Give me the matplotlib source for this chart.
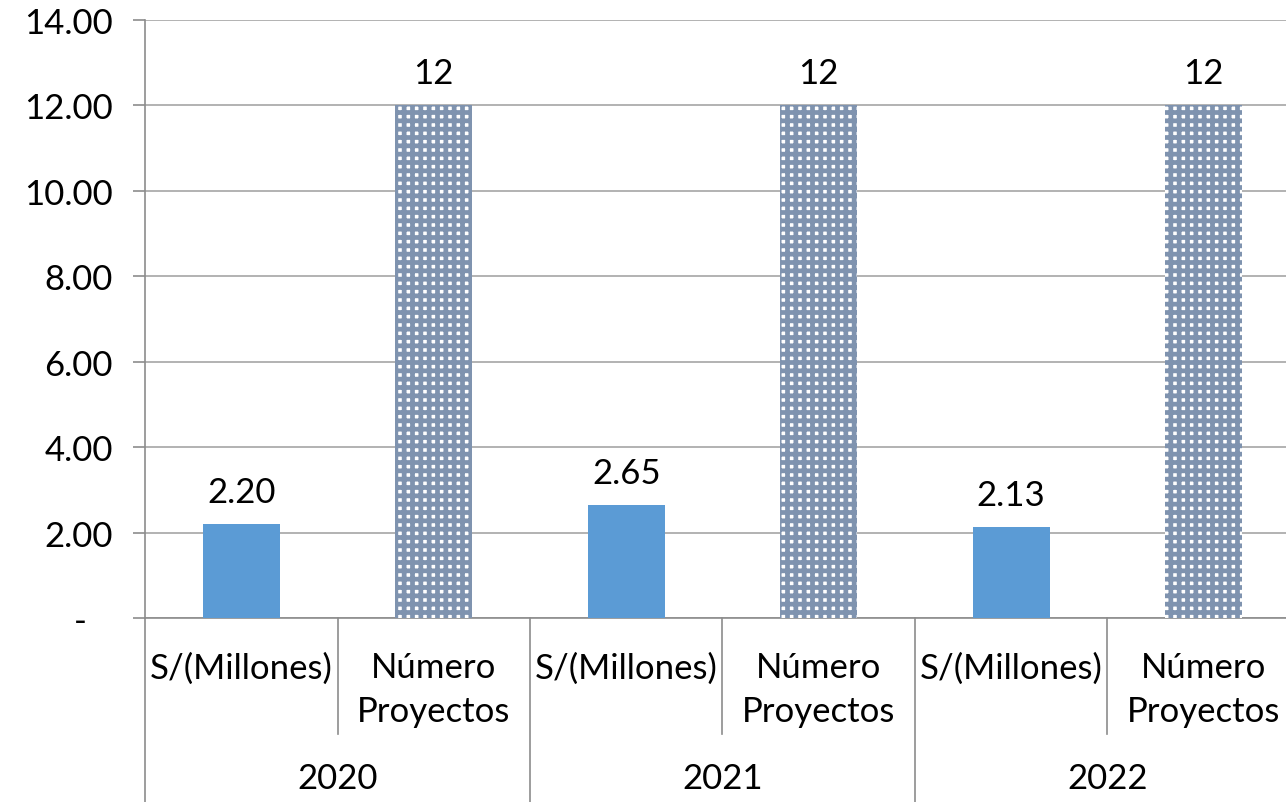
import matplotlib.pyplot as plt
import matplotlib.transforms as mtransforms

# datos
years = ['2020', '2021', '2022']
sub_labels = ['S/(Millones)', 'Número\nProyectos']
montos = [2.20, 2.65, 2.13]
proyectos = [12, 12, 12]

plt.rcParams['font.family'] = ['Lato', 'DejaVu Sans']
plt.rcParams['hatch.linewidth'] = 3.4

fig = plt.figure(figsize=(12.86, 8.03), dpi=100)
ax = fig.add_axes([0.1128, 0.2291, 0.898, 0.7447])

grid_c = '#A6A6A6'
axis_c = '#8C8C8C'
fs = 25

pos = list(range(6))
pos_m = [i * 2 for i in range(3)]
pos_p = [i * 2 + 1 for i in range(3)]

ax.bar(pos_m, montos, width=0.4, color='#5B9BD5', zorder=3)
ax.bar(pos_p, proyectos, width=0.4, color='white', edgecolor='#7F93AF',
       hatch='++', linewidth=0, zorder=3)

for x, v in zip(pos_m, montos):
    ax.text(x, v + 0.38, f'{v:.2f}', ha='center', va='bottom', fontsize=fs)
for x, v in zip(pos_p, proyectos):
    ax.text(x, v + 0.38, f'{v}', ha='center', va='bottom', fontsize=fs)

ax.set_xlim(-0.5, 5.5)
ax.set_ylim(0, 14)
yt = [0, 2, 4, 6, 8, 10, 12, 14]
ax.set_yticks(yt)
ax.set_yticklabels(['-   ' if v == 0 else f'{v:.2f}' for v in yt], fontsize=fs)
ax.yaxis.grid(True, color=grid_c, linewidth=1.2, zorder=0)
ax.tick_params(axis='y', length=9, color=axis_c, width=1.2, pad=14)

ax.set_xticks(pos)
ax.set_xticklabels(sub_labels * 3, fontsize=fs, linespacing=1.45, va='top')
ax.tick_params(axis='x', length=0, pad=24)

for s in ['top', 'right']:
    ax.spines[s].set_visible(False)
ax.spines['left'].set_color(axis_c)
ax.spines['bottom'].set_color(axis_c)
ax.spines['left'].set_linewidth(1.2)
ax.spines['bottom'].set_linewidth(1.2)

# separadores de categorías (multi-nivel)
trans = mtransforms.blended_transform_factory(ax.transData, ax.transAxes)
h_ax = 0.7447 * 8.03
px = 1 / (h_ax * 100)
for b in [0.5, 2.5, 4.5]:
    ax.plot([b, b], [0, -116 * px], color=axis_c, lw=1.2, transform=trans, clip_on=False)
for b in [-0.5, 1.5, 3.5, 5.5]:
    ax.plot([b, b], [0, -190 * px], color=axis_c, lw=1.2, transform=trans, clip_on=False)

for i, y in enumerate(years):
    ax.text(i * 2 + 0.5, -160 * px, y, ha='center', va='center', fontsize=fs,
            transform=trans)

fig.savefig('out.png', dpi=100)
